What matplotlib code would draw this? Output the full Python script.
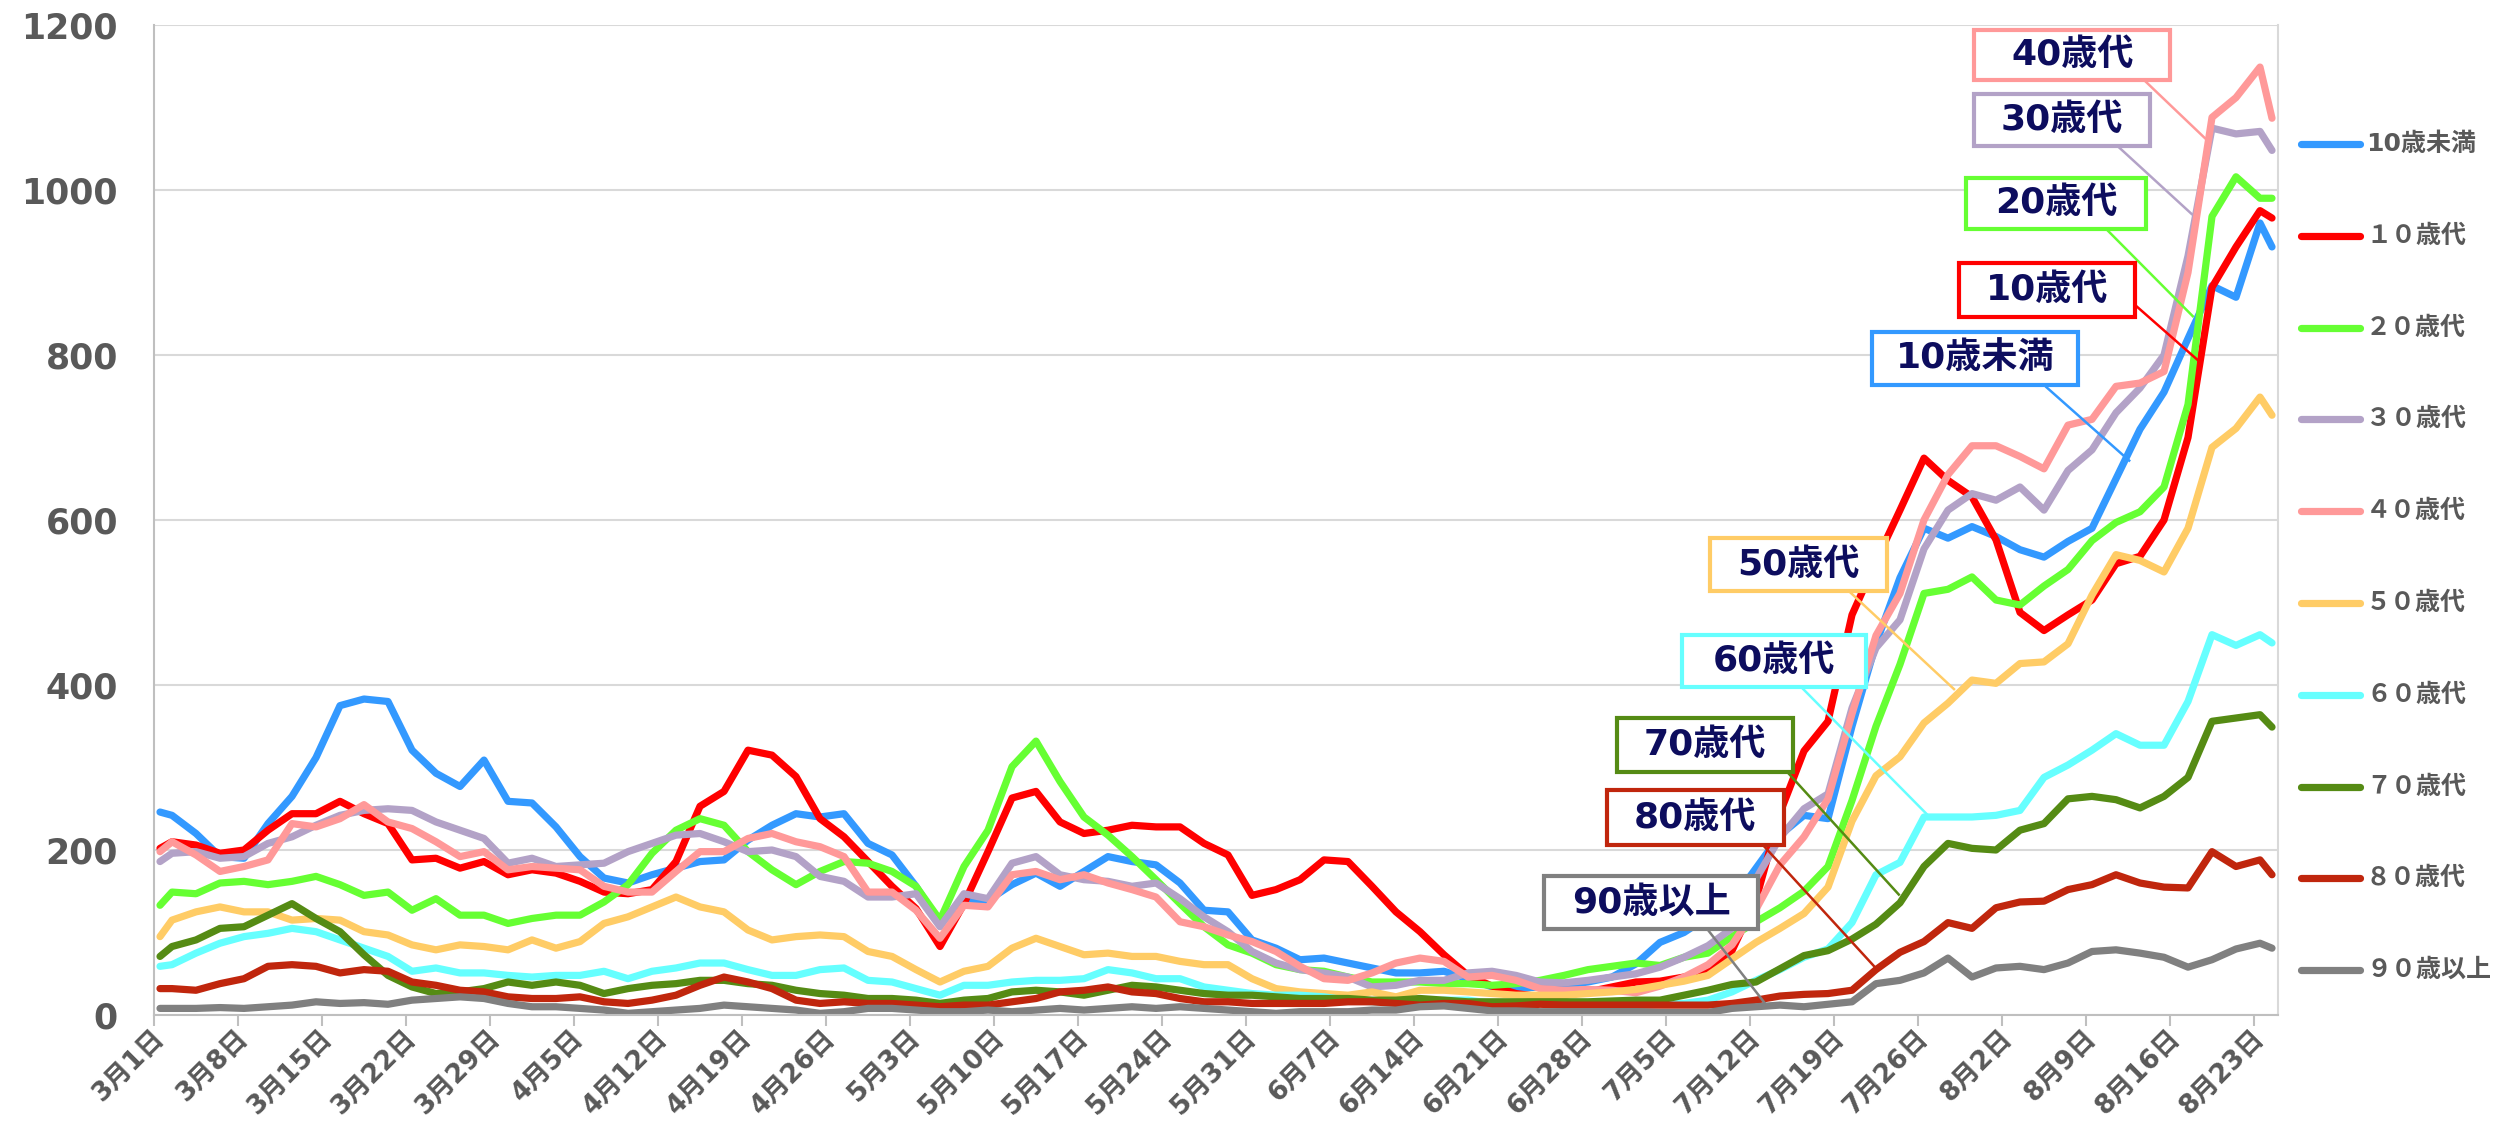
import matplotlib
matplotlib.use('Agg')
import matplotlib.pyplot as plt
from matplotlib.lines import Line2D
from matplotlib.patches import Rectangle

plt.rcParams['font.family'] = ['DejaVu Sans', 'Noto Sans CJK JP']

# day offsets counted from 3月1日 (last day = 8月24日)
days = [0] + list(range(1, 176, 2)) + [176]

tick_days = list(range(0, 176, 7))
tick_labels = ['3月1日', '3月8日', '3月15日', '3月22日', '3月29日', '4月5日', '4月12日',
               '4月19日', '4月26日', '5月3日', '5月10日', '5月17日', '5月24日', '5月31日',
               '6月7日', '6月14日', '6月21日', '6月28日', '7月5日', '7月12日', '7月19日',
               '7月26日', '8月2日', '8月9日', '8月16日', '8月23日']

# daily counts (7-day average)
under_10 = [246, 242, 220, 192, 190, 232, 265, 312, 375, 383,
            380, 321, 293, 277, 309, 259, 257, 228, 192, 166,
            160, 170, 178, 186, 188, 212, 230, 244, 240, 244,
            208, 194, 156, 111, 139, 139, 158, 172, 156, 174,
            192, 186, 182, 160, 127, 125, 91, 81, 67, 69,
            63, 57, 51, 51, 53, 44, 34, 32, 34, 36,
            40, 46, 62, 88, 100, 119, 138, 178, 218, 242,
            238, 350, 450, 530, 590, 578, 592, 580, 564, 555,
            574, 590, 650, 710, 755, 820, 884, 870, 960, 931]
teens = [202, 210, 206, 196, 200, 224, 244, 244, 259, 244,
         232, 188, 190, 178, 186, 170, 176, 172, 162, 149,
         147, 152, 186, 253, 271, 321, 315, 289, 238, 216,
         186, 156, 129, 83, 135, 198, 263, 271, 234, 220,
         224, 230, 228, 228, 208, 194, 145, 152, 164, 188,
         186, 156, 125, 101, 73, 48, 35, 26, 22, 24,
         28, 34, 40, 41, 46, 52, 78, 140, 245, 320,
         356, 485, 550, 612, 675, 648, 628, 576, 488, 466,
         485, 503, 547, 556, 600, 700, 882, 931, 975, 966]
twenties = [133, 149, 147, 160, 162, 158, 162, 168, 158, 145,
            149, 127, 141, 121, 121, 111, 117, 121, 121, 137,
            158, 196, 224, 238, 230, 198, 176, 158, 174, 186,
            184, 174, 156, 115, 180, 224, 301, 332, 283, 240,
            218, 192, 164, 135, 107, 85, 75, 61, 55, 53,
            46, 40, 40, 40, 38, 38, 36, 38, 42, 48,
            55, 59, 63, 60, 70, 75, 95, 113, 130, 150,
            180, 260, 350, 425, 511, 516, 531, 503, 497, 520,
            540, 575, 597, 610, 640, 740, 968, 1016, 990, 990]
thirties = [186, 196, 198, 190, 192, 208, 216, 230, 242, 248,
            250, 248, 234, 224, 214, 184, 190, 180, 182, 184,
            198, 208, 218, 220, 210, 198, 200, 192, 168, 162,
            143, 143, 147, 107, 147, 141, 184, 192, 170, 164,
            162, 156, 160, 141, 119, 101, 77, 63, 55, 51,
            46, 34, 36, 42, 42, 51, 53, 48, 40, 39,
            42, 46, 50, 58, 70, 84, 105, 165, 215, 250,
            268, 372, 445, 479, 565, 612, 632, 624, 640, 612,
            660, 685, 730, 760, 800, 920, 1075, 1068, 1071, 1048]
forties = [198, 210, 194, 174, 180, 188, 232, 228, 238, 255,
           234, 226, 210, 192, 198, 176, 180, 178, 176, 156,
           149, 149, 174, 198, 198, 214, 220, 210, 204, 192,
           149, 149, 127, 93, 133, 131, 170, 174, 164, 170,
           160, 152, 143, 113, 107, 97, 89, 77, 59, 44,
           42, 51, 63, 69, 65, 46, 48, 42, 32, 30,
           31, 30, 27, 35, 46, 61, 85, 128, 182, 216,
           262, 365, 460, 511, 600, 655, 690, 690, 677, 662,
           715, 722, 762, 766, 780, 900, 1088, 1112, 1149, 1087]
fifties = [95, 115, 125, 131, 125, 125, 115, 117, 115, 101,
           97, 85, 79, 85, 83, 79, 91, 81, 89, 111,
           119, 131, 143, 131, 125, 103, 91, 95, 97, 95,
           77, 71, 55, 40, 53, 59, 81, 93, 83, 73,
           75, 71, 71, 65, 61, 61, 44, 32, 28, 26,
           24, 28, 22, 30, 30, 28, 26, 24, 24, 24,
           26, 28, 31, 36, 41, 48, 68, 88, 105, 123,
           155, 235, 290, 313, 354, 378, 406, 402, 426, 428,
           450, 509, 558, 551, 537, 590, 688, 711, 749, 727]
sixties = [59, 61, 75, 87, 95, 99, 105, 101, 91, 81,
           71, 53, 57, 51, 51, 48, 46, 48, 48, 53,
           44, 53, 57, 63, 63, 55, 48, 48, 55, 57,
           42, 40, 32, 24, 36, 36, 40, 42, 42, 44,
           55, 51, 44, 44, 34, 30, 26, 24, 24, 22,
           18, 16, 14, 16, 18, 18, 14, 14, 14, 13,
           13, 12, 12, 13, 14, 18, 28, 42, 55, 70,
           80, 112, 170, 185, 240, 240, 240, 242, 248, 288,
           303, 321, 341, 327, 327, 380, 461, 448, 461, 451]
seventies = [71, 83, 91, 105, 107, 121, 135, 117, 101, 73,
             48, 34, 26, 28, 32, 40, 36, 40, 36, 26,
             32, 36, 38, 42, 42, 38, 36, 30, 26, 24,
             20, 20, 18, 14, 18, 20, 28, 30, 28, 24,
             30, 36, 34, 30, 26, 24, 24, 22, 20, 20,
             20, 18, 18, 20, 18, 16, 16, 16, 16, 16,
             16, 17, 18, 18, 24, 30, 37, 40, 56, 72,
             78, 92, 110, 136, 180, 208, 202, 200, 224, 232,
             262, 265, 261, 251, 265, 288, 356, 360, 364, 349]
eighties = [32, 32, 30, 38, 44, 59, 61, 59, 51, 55,
            53, 40, 36, 30, 28, 22, 20, 20, 22, 16,
            14, 18, 24, 36, 46, 40, 32, 18, 14, 16,
            14, 14, 12, 10, 12, 12, 16, 20, 28, 30,
            34, 28, 26, 20, 16, 16, 14, 14, 14, 14,
            16, 16, 14, 12, 14, 14, 10, 11, 13, 12,
            12, 12, 12, 12, 12, 12, 14, 18, 23, 25,
            26, 30, 55, 76, 89, 112, 105, 130, 137, 138,
            152, 158, 170, 160, 155, 154, 198, 180, 188, 170]
over_90 = [8, 8, 8, 9, 8, 10, 12, 16, 14, 15,
           13, 18, 20, 22, 20, 14, 10, 10, 8, 6,
           2, 4, 6, 8, 12, 10, 8, 6, 2, 4,
           8, 8, 6, 4, 4, 6, 4, 6, 8, 6,
           8, 10, 8, 10, 8, 6, 4, 2, 4, 4,
           4, 6, 6, 10, 11, 8, 5, 5, 4, 4,
           4, 4, 4, 3, 3, 3, 8, 10, 12, 10,
           13, 16, 38, 42, 51, 69, 46, 57, 59, 55,
           63, 77, 79, 75, 70, 58, 67, 80, 87, 81]

series = [under_10, teens, twenties, thirties, forties,
          fifties, sixties, seventies, eighties, over_90]
legend_names = ['10歳未満', '１０歳代', '２０歳代', '３０歳代', '４０歳代',
                '５０歳代', '６０歳代', '７０歳代', '８０歳代', '９０歳以上']
box_names = ['10歳未満', '10歳代', '20歳代', '30歳代', '40歳代',
             '50歳代', '60歳代', '70歳代', '80歳代', '90歳以上']
colors = ['#3399FF', '#FF0000', '#66FF33', '#B3A2C7', '#FF9999',
          '#FFCC66', '#66FFFF', '#558B14', '#C0260D', '#808080']

# callout boxes: (x0, x1, y0, y1) and leader line (x0, y0, x1, y1), data units
boxes = [(142.7, 159.8, 764, 828), (149.9, 164.6, 846, 911), (150.5, 165.5, 953, 1015),
         (151.2, 165.8, 1053, 1116), (151.2, 167.5, 1133, 1194), (129.2, 143.9, 514, 578),
         (126.8, 142.2, 397, 461), (121.4, 136.1, 295, 360), (120.6, 135.3, 206, 273),
         (115.3, 133.2, 104, 168)]
leaders = [(157.2, 761, 164.1, 672), (164.4, 863, 169.8, 794), (162.3, 951, 169.4, 847),
           (163.3, 1051, 169.3, 971), (165.5, 1131, 170.4, 1063), (140.8, 513, 149.5, 395),
           (136.8, 397, 147.4, 241), (135.7, 293, 144.9, 146), (133.2, 212, 143.1, 55),
           (129.0, 103, 133.7, 15)]

W, H = 2507, 1125
fig = plt.figure(figsize=(W / 100, H / 100), dpi=100)
ax = fig.add_axes([154 / W, 1 - 1015 / H, (2278 - 154) / W, (1015 - 25) / H])

for vals, c in zip(series, colors):
    ax.plot(days, vals, color=c, lw=5.2, solid_joinstyle='round', solid_capstyle='round', zorder=2)

ax.set_xlim(-0.5, 176.5)
ax.set_ylim(0, 1200)
ax.set_yticks(range(0, 1201, 200))
ax.tick_params(axis='y', length=0, pad=26, labelsize=25, labelcolor='#595959')
for lbl in ax.get_yticklabels():
    lbl.set_fontweight('bold')

ax.set_xticks(tick_days)
ax.set_xticklabels(tick_labels, rotation=45, ha='right', va='center', rotation_mode='anchor',
                   fontsize=19, color='#595959', fontweight='bold')
ax.tick_params(axis='x', which='major', length=0, pad=14)
ax.set_xticks([d - 0.5 for d in tick_days], minor=True)
ax.tick_params(axis='x', which='minor', length=8, width=1.5, color='#bfbfbf')

ax.yaxis.grid(True, color='#d9d9d9', lw=1.5)
ax.set_axisbelow(True)
ax.spines['top'].set_visible(False)
ax.spines['right'].set_color('#d9d9d9')
ax.spines['right'].set_linewidth(1.5)
for s in ['left', 'bottom']:
    ax.spines[s].set_color('#bfbfbf')
    ax.spines[s].set_linewidth(1.5)

# callouts
for name, c, (x0, x1, y0, y1), (lx0, ly0, lx1, ly1) in zip(box_names, colors, boxes, leaders):
    ax.plot([lx0, lx1], [ly0, ly1], color=c, lw=1.8, zorder=4)
    ax.add_patch(Rectangle((x0, y0), x1 - x0, y1 - y0, facecolor='white', edgecolor=c,
                           lw=3, zorder=5))
    ax.text((x0 + x1) / 2, (y0 + y1) / 2, name, fontsize=26, fontweight='bold',
            color='#0d0d5e', ha='center', va='center', zorder=6)

# legend on the right
for i, (name, c) in enumerate(zip(legend_names, colors)):
    y = 1 - (144 + 91.8 * i) / H
    fig.add_artist(Line2D([2301 / W, 2360 / W], [y, y], color=c, lw=5.2, solid_capstyle='round'))
    fig.text(2366 / W, y, name, fontsize=18, fontweight='bold', color='#595959', va='center')

fig.savefig('out.png', dpi=100)
